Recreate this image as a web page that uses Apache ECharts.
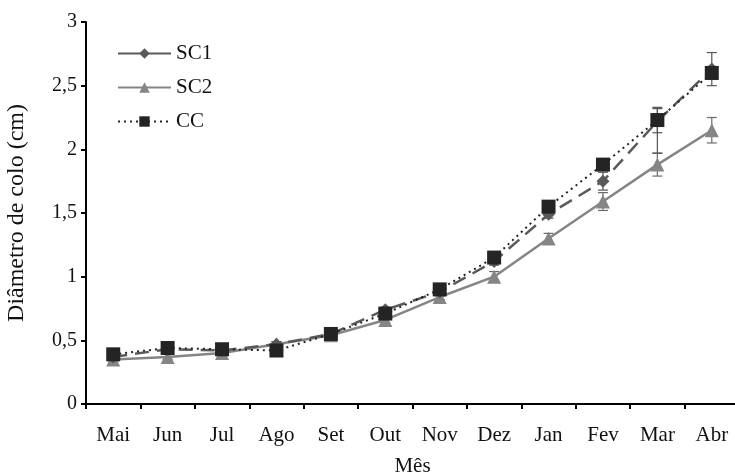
<!DOCTYPE html>
<html>
<head>
<meta charset="utf-8">
<script src="https://cdn.jsdelivr.net/npm/echarts@6/dist/echarts.min.js"></script>
<style>
  html, body { margin: 0; padding: 0; background: #fff; }
  #chart { width: 735px; height: 473px; }
</style>
</head>
<body>
<div id="chart"></div>
<script>
// Monthly stem (collar) diameter, cm
const months = ['Mai', 'Jun', 'Jul', 'Ago', 'Set', 'Out', 'Nov', 'Dez', 'Jan', 'Fev', 'Mar', 'Abr'];
const yTicks = [0, 0.5, 1, 1.5, 2, 2.5, 3];

const sc1 = [0.37, 0.43, 0.42, 0.47, 0.55, 0.74, 0.88, 1.12, 1.49, 1.75, 2.22, 2.63];
const sc2 = [0.35, 0.37, 0.40, 0.47, 0.54, 0.66, 0.84, 1.00, 1.30, 1.59, 1.88, 2.15];
const cc  = [0.39, 0.44, 0.43, 0.42, 0.55, 0.71, 0.90, 1.15, 1.55, 1.88, 2.23, 2.60];

// error bars as [minus, plus]
const sc1Err = [[0.02,0.02],[0.03,0.03],[0.02,0.02],[0.02,0.02],[0.02,0.02],[0.02,0.02],[0.03,0.03],[0.03,0.03],[0.03,0.03],[0.07,0.07],[0.25,0.10],[0.13,0.13]];
const sc2Err = [[0.02,0.02],[0.02,0.02],[0.02,0.02],[0.02,0.02],[0.02,0.02],[0.02,0.02],[0.02,0.02],[0.04,0.04],[0.04,0.04],[0.07,0.07],[0.09,0.09],[0.10,0.10]];
const ccErr  = [[0.02,0.02],[0.05,0.05],[0.02,0.02],[0.02,0.02],[0.02,0.02],[0.02,0.02],[0.02,0.02],[0.03,0.03],[0.03,0.03],[0.03,0.03],[0.10,0.10],[0.05,0.05]];

const FONT = '"Liberation Serif", "Times New Roman", serif';
const C_SC1 = '#5a5a5a';
const C_SC2 = '#858585';
const C_CC = '#242424';

function errorSeries(name, values, errs, color) {
  const data = values.map((v, i) => [i, v - errs[i][0], v + errs[i][1]]);
  return {
    type: 'custom',
    name: name + '-err',
    z: 1,
    silent: true,
    renderItem(params, api) {
      const x = api.value(0);
      const lo = api.coord([x, api.value(1)]);
      const hi = api.coord([x, api.value(2)]);
      const hw = 5;
      const style = { stroke: color, lineWidth: 1.2 };
      return {
        type: 'group',
        children: [
          { type: 'line', shape: { x1: lo[0], y1: lo[1], x2: hi[0], y2: hi[1] }, style },
          { type: 'line', shape: { x1: lo[0] - hw, y1: lo[1], x2: lo[0] + hw, y2: lo[1] }, style },
          { type: 'line', shape: { x1: hi[0] - hw, y1: hi[1], x2: hi[0] + hw, y2: hi[1] }, style }
        ]
      };
    },
    encode: { x: 0, y: [1, 2] },
    data
  };
}

const chart = echarts.init(document.getElementById('chart'), null, { renderer: 'canvas' });

chart.setOption({
  animation: false,
  backgroundColor: '#ffffff',
  textStyle: { fontFamily: FONT },
  grid: { left: 86, top: 22, width: 653, height: 382, containLabel: false, outerBoundsMode: 'none' },
  legend: {
    orient: 'vertical',
    left: 112,
    top: 38,
    itemWidth: 53,
    itemHeight: 13,
    itemGap: 13,
    textStyle: { fontFamily: FONT, fontSize: 21, color: '#111', padding: [0, 0, 0, 0] },
    data: [
      { name: 'SC1', lineStyle: { type: 'solid' } },
      { name: 'SC2' },
      { name: 'CC' }
    ]
  },
  xAxis: {
    type: 'category',
    data: months,
    boundaryGap: true,
    name: 'Mês',
    nameLocation: 'middle',
    nameGap: 52,
    nameTextStyle: { fontFamily: FONT, fontSize: 21, color: '#111' },
    axisLine: { lineStyle: { color: '#000', width: 2 } },
    axisTick: { show: true, length: 5, lineStyle: { color: '#000', width: 2 } },
    axisLabel: { fontFamily: FONT, fontSize: 21, color: '#111', margin: 21, interval: 0 },
    splitLine: { show: false }
  },
  yAxis: {
    type: 'value',
    min: yTicks[0],
    max: yTicks[yTicks.length - 1],
    interval: 0.5,
    name: 'Diâmetro de colo (cm)',
    nameLocation: 'middle',
    nameGap: 57,
    nameRotate: 90,
    nameTextStyle: { fontFamily: FONT, fontSize: 24, color: '#111' },
    axisLine: { show: true, lineStyle: { color: '#000', width: 2 } },
    axisTick: { show: true, length: 5, lineStyle: { color: '#000', width: 2 } },
    axisLabel: {
      fontFamily: FONT, fontSize: 20, color: '#111', margin: 9,
      formatter: v => String(v).replace('.', ',')
    },
    splitLine: { show: false }
  },
  series: [
    errorSeries('SC2', sc2, sc2Err, '#6a6a6a'),
    errorSeries('SC1', sc1, sc1Err, '#555555'),
    errorSeries('CC', cc, ccErr, '#555555'),
    {
      name: 'SC2', type: 'line', data: sc2, z: 3,
      symbol: 'triangle', symbolSize: 14,
      lineStyle: { color: C_SC2, width: 2.5, type: 'solid' },
      itemStyle: { color: C_SC2 }
    },
    {
      name: 'SC1', type: 'line', data: sc1, z: 4,
      symbol: 'diamond', symbolSize: 13,
      lineStyle: { color: C_SC1, width: 2.5, type: [14, 8] },
      itemStyle: { color: C_SC1 }
    },
    {
      name: 'CC', type: 'line', data: cc, z: 5,
      symbol: 'rect', symbolSize: 14,
      lineStyle: { color: C_CC, width: 2, type: [2, 4] },
      itemStyle: { color: C_CC }
    }
  ]
});
</script>
</body>
</html>
